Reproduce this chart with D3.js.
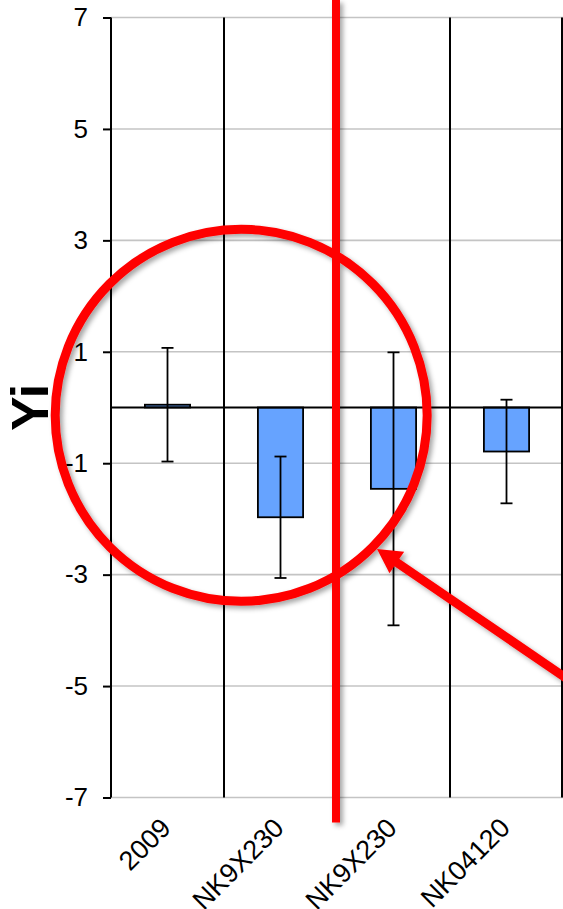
<!DOCTYPE html>
<html>
<head>
<meta charset="utf-8">
<script src="https://cdn.jsdelivr.net/npm/d3@7"></script>
<style>
  html, body { margin: 0; padding: 0; background: #fff; }
  svg { display: block; font-family: "Liberation Sans", Arial, sans-serif; }
</style>
</head>
<body>
<svg id="chart" width="563" height="909"></svg>
<script>
// Category labels, bar means and error half-widths
const categories = ["2009", "NK9X230", "NK9X230", "NK04120"];
const means = [0.05, -1.97, -1.46, -0.79];
const errors = [1.02, 1.09, 2.45, 0.93];
const yTicks = [-7, -5, -3, -1, 1, 3, 5, 7];
const yLabel = "Yi";

const svg = d3.select("#chart");
const W = 563, H = 909;

const x = d3.scaleBand().domain(d3.range(categories.length)).range([111, 563]).padding(0);
const y = d3.scaleLinear().domain([-7, 7]).range([797.5, 17.5]);
const barW = x.bandwidth() * 0.4;
const capW = 12;

// drop shadow for the red highlight marks
const defs = svg.append("defs");
const f = defs.append("filter").attr("id", "shadow")
  .attr("x", "-20%").attr("y", "-20%").attr("width", "140%").attr("height", "140%");
f.append("feDropShadow").attr("dx", 3).attr("dy", 3).attr("stdDeviation", 2.5)
  .attr("flood-color", "#000").attr("flood-opacity", 0.35);

// horizontal gridlines
svg.append("g").selectAll("line").data(yTicks).join("line")
  .attr("x1", x.range()[0]).attr("x2", W)
  .attr("y1", d => y(d)).attr("y2", d => y(d))
  .attr("stroke", "#c4c4c4").attr("stroke-width", 1.6);

// category separator lines
const seps = d3.range(categories.length + 1).map(i => i < categories.length ? x(i) : x.range()[1] - 1);
svg.append("g").selectAll("line").data(seps.slice(1)).join("line")
  .attr("x1", d => d).attr("x2", d => d)
  .attr("y1", y(7)).attr("y2", y(-7))
  .attr("stroke", "#000").attr("stroke-width", 2);

// bars
svg.append("g").selectAll("rect").data(means).join("rect")
  .attr("x", (d, i) => x(i) + x.bandwidth() / 2 - barW / 2)
  .attr("width", barW)
  .attr("y", d => y(Math.max(0, d)))
  .attr("height", d => Math.abs(y(d) - y(0)))
  .attr("fill", "#66a3ff").attr("stroke", "#000").attr("stroke-width", 1.8);

// error bars
const eb = svg.append("g").attr("stroke", "#000").attr("stroke-width", 1.8);
means.forEach((m, i) => {
  const cx = x(i) + x.bandwidth() / 2;
  const top = y(m + errors[i]), bot = y(m - errors[i]);
  eb.append("line").attr("x1", cx).attr("x2", cx).attr("y1", top).attr("y2", bot);
  eb.append("line").attr("x1", cx - capW / 2).attr("x2", cx + capW / 2).attr("y1", top).attr("y2", top);
  eb.append("line").attr("x1", cx - capW / 2).attr("x2", cx + capW / 2).attr("y1", bot).attr("y2", bot);
});

// zero line
svg.append("line").attr("x1", x.range()[0]).attr("x2", W)
  .attr("y1", y(0)).attr("y2", y(0)).attr("stroke", "#000").attr("stroke-width", 2);

// y axis
const yAxis = svg.append("g").attr("transform", `translate(${x.range()[0]},0)`)
  .call(d3.axisLeft(y).tickValues(yTicks).tickSize(8).tickPadding(15).tickFormat(d3.format("d")));
yAxis.select(".domain").attr("stroke", "#000").attr("stroke-width", 2)
  .attr("d", `M0,${y(7)}V${y(-7)}`);
yAxis.selectAll(".tick line").attr("stroke", "#000").attr("stroke-width", 2);
yAxis.selectAll(".tick text").attr("font-size", 26).attr("fill", "#000")
  .attr("font-family", "Liberation Sans, Arial, sans-serif").text(d => d < 0 ? "-" + Math.abs(d) : d);

// y axis title
svg.append("text").attr("transform", `translate(48,${y(0)}) rotate(-90)`)
  .attr("text-anchor", "middle").attr("font-size", 52).attr("font-weight", "bold")
  .text(yLabel);

// category labels, rotated
svg.append("g").selectAll("text").data(categories).join("text")
  .attr("transform", (d, i) => `translate(${x(i) + x.bandwidth() / 2 + 5},${y(-7) + 32}) rotate(-45)`)
  .attr("text-anchor", "end").attr("font-size", 27)
  .text(d => d);

// highlight: circle
const hl = svg.append("g").attr("filter", "url(#shadow)");
hl.append("ellipse")
  .attr("cx", x(0) + x.bandwidth() * 1.152).attr("cy", y(-0.14))
  .attr("rx", 186).attr("ry", 186)
  .attr("fill", "none").attr("stroke", "#ff0000").attr("stroke-width", 9);

// highlight: vertical divider
hl.append("line")
  .attr("x1", x(2) - 1).attr("x2", x(2) - 1)
  .attr("y1", 0).attr("y2", y(-7) + 25)
  .attr("stroke", "#ff0000").attr("stroke-width", 8);

// highlight: arrow pointing at the third bar's error bar
const tip = [377, 549];
const dir = [0.826, 0.564];
const headLen = 24, headHalf = 13;
const base = [tip[0] + dir[0] * headLen, tip[1] + dir[1] * headLen];
const nrm = [-dir[1], dir[0]];
hl.append("line")
  .attr("x1", base[0] - dir[0] * 2).attr("y1", base[1] - dir[1] * 2)
  .attr("x2", tip[0] + dir[0] * 260).attr("y2", tip[1] + dir[1] * 260)
  .attr("stroke", "#ff0000").attr("stroke-width", 9);
hl.append("polygon")
  .attr("points", [
    tip,
    [base[0] + nrm[0] * headHalf, base[1] + nrm[1] * headHalf],
    [base[0] - nrm[0] * headHalf, base[1] - nrm[1] * headHalf]
  ].map(p => p.join(",")).join(" "))
  .attr("fill", "#ff0000");
</script>
</body>
</html>
